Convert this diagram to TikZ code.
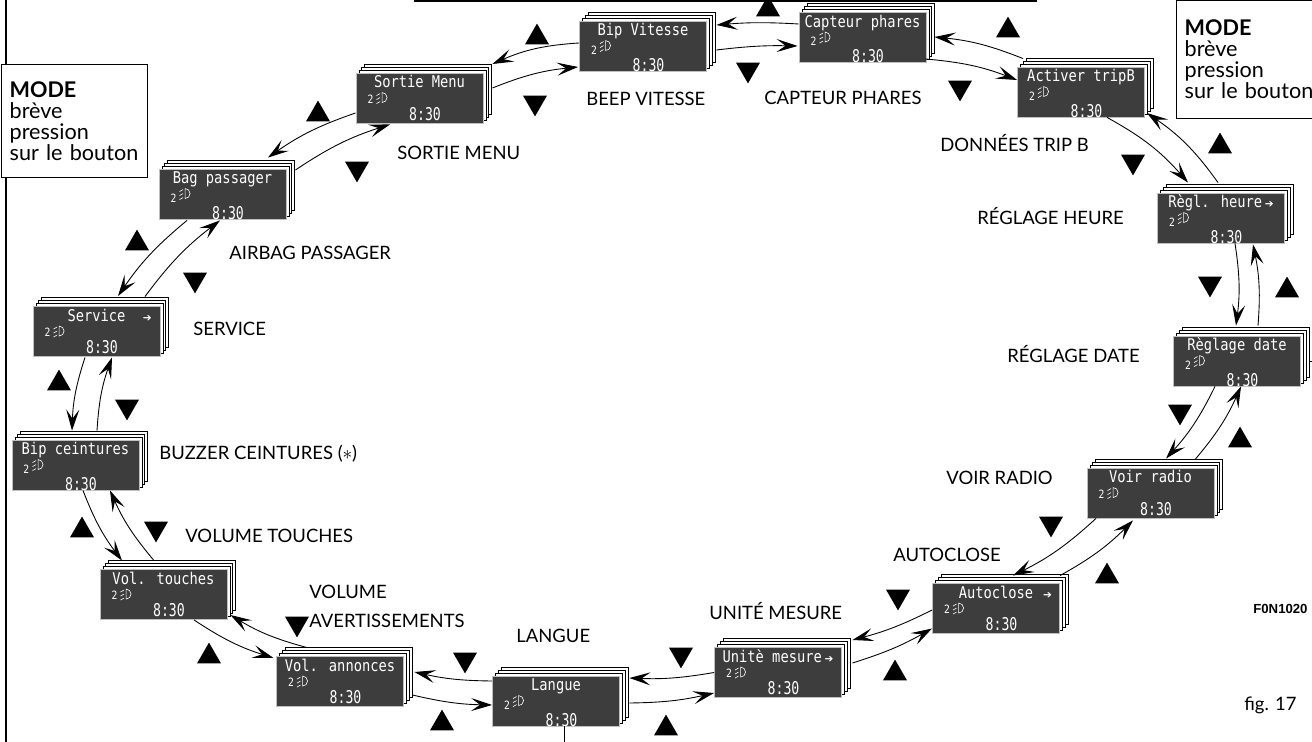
\documentclass[tikz,border=0pt]{standalone}
\usepackage{fontspec}
\setmainfont{Lato}
\newfontfamily\lcdfont[FakeStretch=0.85]{DejaVu Sans Mono}
\newfontfamily\clockfont[FakeStretch=0.75]{DejaVu Sans Mono}
\newfontfamily\symfont{DejaVu Sans}
\newfontfamily\codefont{Liberation Sans}
\usetikzlibrary{shapes.geometric,arrows.meta,shadows}
\definecolor{lcdgray}{HTML}{3D3D3D}
\newcommand{\submenu}[1]{\rlap{\hspace{#1}{\symfont\fontsize{6}{6}\selectfont ➔}}}
\newcommand{\subinline}{\,{\symfont\fontsize{6}{6}\selectfont ➔}}
% display face: title line, "2" + lamp, clock
\newcommand{\lcd}[1]{\vbox to 10mm{\hsize=25.4mm\offinterlineskip
  \hbox to\hsize{\vrule height3mm depth0pt width0pt\hss{\lcdfont\fontsize{9.2}{10}\selectfont #1}\hss}%
  \hbox to\hsize{\vrule height3mm depth0pt width0pt\hspace*{2.3mm}{\lcdfont\fontsize{6.5}{7}\selectfont 2}\hss}%
  \hbox to\hsize{\vrule height3.4mm depth0.6mm width0pt\hss\hspace*{2.2mm}{\clockfont\fontsize{10}{10}\selectfont 8:30}\hss}%
  \vss}}

\begin{document}
\begin{tikzpicture}[x=0.2mm, y=-0.2mm,
  headlamp/.pic={
    \draw[white, line width=0.35pt] (5.3mm,-6mm) arc[start angle=-90, end angle=90, radius=1mm] -- cycle;
    \draw[white, line width=0.35pt] (4.9mm,-4.2mm) -- (4.2mm,-4.6mm) (4.9mm,-5mm) -- (4.2mm,-5.4mm) (4.9mm,-5.8mm) -- (4.2mm,-6.2mm);
  },
  card/.style={rectangle, draw=gray!50, line width=0.5pt, fill=lcdgray, text=white,
    minimum width=25.4mm, minimum height=10mm, inner sep=0pt,
    general shadow={fill=white, draw=black, line width=0.4pt, shadow xshift=1.74mm, shadow yshift=1.74mm},
    general shadow={fill=white, draw=black, line width=0.4pt, shadow xshift=1.16mm, shadow yshift=1.16mm},
    general shadow={fill=white, draw=black, line width=0.4pt, shadow xshift=0.58mm, shadow yshift=0.58mm},
    append after command={(\tikzlastnode.north west) pic {headlamp}}},
  nav/.style={-{Stealth[length=4.2mm, width=2.6mm, inset=1.8mm]}, line width=0.5pt},
  tri/.style={regular polygon, regular polygon sides=3, fill=black, inner sep=0pt, minimum size=5.54mm},
  triup/.style={tri, yshift=-0.69mm},
  tridn/.style={tri, shape border rotate=180, yshift=0.69mm},
  lbl/.style={anchor=base west, inner sep=0pt, font=\fontsize{10.5}{17}\selectfont},
  modebox/.style={draw, fill=white, line width=0.75pt, anchor=north west, align=left,
    inner xsep=1.6mm, inner ysep=3.5mm, text width=26mm, minimum width=29.2mm, font=\fontsize{12.3}{11.8}\selectfont},
  frame/.style={line width=0.85pt},
]
\useasboundingbox (0,0) rectangle (1312,742);

% === Frame lines ===
\draw[frame] (6,-5) -- (6,750);
\draw[frame] (415,-20) rectangle (1036,1);

% === MODE boxes ===
\node[modebox] (modeleft) at (1,64) {\textbf{MODE}\\brève\\pression\\sur le bouton};
\node[modebox, inner ysep=4mm] (moderight) at (1176,-0.5) {\textbf{MODE}\\brève\\pression\\sur le bouton};

% === Displays, clockwise from the top ===
\node[card] (sortie) at (419.5,98) {\lcd{Sortie Menu}};
\node[card] (bipvit) at (643,46) {\lcd{Bip Vitesse}};
\node[card] (capteur) at (862.5,37.5) {\lcd{Capteur phares}};
\node[card] (trip) at (1081,92) {\lcd{Activer tripB}};
\node[card] (heure) at (1221,218) {\lcd{Règl. heure\subinline}};
\node[card] (date) at (1237,361) {\lcd{Règlage date}};
\node[card] (radio) at (1150.5,493) {\lcd{Voir radio}};
\node[card] (autoclose) at (996,608.5) {\lcd{Autoclose\submenu{2mm}}};
\node[card] (unite) at (778,672.5) {\lcd{Unitè mesure\subinline}};
\node[card] (langue) at (556,701) {\lcd{Langue}};
\node[card] (annonces) at (340,681.5) {\lcd{Vol. annonces}};
\node[card] (touches) at (163.5,594.5) {\lcd{Vol. touches}};
\node[card] (ceint) at (75.5,465) {\lcd{Bip ceintures}};
\node[card] (service) at (96.5,331.5) {\lcd{Service\submenu{3.5mm}}};
\node[card] (airbag) at (222.5,194) {\lcd{Bag passager}};

% === Captions ===
\node[lbl] (lblsortie) at (397,160) {SORTIE MENU};
\node[lbl] (lblbip) at (586,106) {BEEP VITESSE};
\node[lbl] (lblcapteur) at (764,105) {CAPTEUR PHARES};
\node[lbl] (lbltrip) at (940,152) {DONNÉES TRIP B};
\node[lbl] (lblheure) at (977,225) {RÉGLAGE HEURE};
\node[lbl] (lbldate) at (1007,363) {RÉGLAGE DATE};
\node[lbl] (lblradio) at (946,485) {VOIR RADIO};
\node[lbl] (lblautoclose) at (893,562) {AUTOCLOSE};
\node[lbl] (lblunite) at (709,620) {UNITÉ MESURE};
\node[lbl] (lbllangue) at (516,643) {LANGUE};
\node[lbl, align=left] (lblannonces) at (309,628) {VOLUME\\AVERTISSEMENTS};
\node[lbl] (lbltouches) at (185,543) {VOLUME TOUCHES};
\node[lbl] (lblceint) at (159,460) {BUZZER CEINTURES (\(\ast\))};
\node[lbl] (lblservice) at (193,336) {SERVICE};
\node[lbl] (lblairbag) at (229,260) {AIRBAG PASSAGER};
\node[lbl] (figno) at (1244,711) {fig. 17};
\node[anchor=base west, inner sep=0pt, font=\codefont\bfseries\fontsize{7.5}{9}\selectfont] (figcode) at (1253,614) {F0N1020};

% === Up / down keys ===
\node[triup] (upsb) at (537,34) {};
\node[triup] (upbc) at (768,6) {};
\node[triup] (upct) at (1008,27) {};
\node[triup] (upth) at (1220,143) {};
\node[triup] (uphd) at (1287,287) {};
\node[triup] (updr) at (1240,437) {};
\node[triup] (upra) at (1107,573) {};
\node[triup] (upau) at (895,670) {};
\node[triup] (upul) at (666,725) {};
\node[triup] (upla) at (442,720) {};
\node[triup] (upat) at (209,653) {};
\node[triup] (uptc) at (82,527) {};
\node[triup] (upcs) at (59,380) {};
\node[triup] (upsa) at (137,240) {};
\node[triup] (upas) at (318,111) {};
\node[tridn] (dnsb) at (535,106) {};
\node[tridn] (dnbc) at (748,73) {};
\node[tridn] (dnct) at (960,91) {};
\node[tridn] (dnth) at (1133,165) {};
\node[tridn] (dnhd) at (1210,287) {};
\node[tridn] (dndr) at (1180,415) {};
\node[tridn] (dnra) at (1051,527) {};
\node[tridn] (dnau) at (898,600) {};
\node[tridn] (dnul) at (681,658) {};
\node[tridn] (dnla) at (465,663) {};
\node[tridn] (dnat) at (297,627) {};
\node[tridn] (dntc) at (156,532) {};
\node[tridn] (dncs) at (127,410) {};
\node[tridn] (dnsa) at (195,283) {};
\node[tridn] (dnas) at (357,172) {};

% === Transitions: outer = up key, inner = down key ===
\draw[nav] ([shift={(0,-3)}]bipvit.west) to[bend right=10] ([shift={(9,-34)}]sortie.east);
\draw[nav] ([shift={(9,-10)}]sortie.east) to[bend left=8] ([shift={(-1,21)}]bipvit.west);
\draw[nav] ([shift={(0,-13.5)}]capteur.west) to[bend right=4] ([shift={(9.5,-21)}]bipvit.east);
\draw[nav] ([shift={(9.5,4)}]bipvit.east) to[bend left=4] ([shift={(-1,8.5)}]capteur.west);
\draw[nav] ([shift={(-58,-8)}]trip.north) to[bend right=8] ([shift={(8,-0.5)}]capteur.east);
\draw[nav] ([shift={(-1,21.5)}]capteur.east) to[bend left=8] ([shift={(0,-12)}]trip.west);
\draw[nav] ([shift={(-3,-10)}]heure.north) to[bend right=10] ([shift={(2,21)}]trip.east);
\draw[nav] ([shift={(26,0)}]trip.south) to[bend left=10] ([shift={(-33,-10)}]heure.north);
\draw[nav] ([shift={(14,0)}]heure.south) to[bend left=8] ([shift={(-1,-10)}]date.north);
\draw[nav] ([shift={(21,-10)}]date.north) to[bend right=8] ([shift={(32,1)}]heure.south);
\draw[nav] ([shift={(-22,0)}]date.south) to[bend left=8] ([shift={(15.5,-9)}]radio.north);
\draw[nav] ([shift={(44.5,-8)}]radio.north) to[bend right=8] ([shift={(4,0)}]date.south);
\draw[nav] ([shift={(-54.5,0)}]radio.south) to[bend left=8] ([shift={(17,-7.5)}]autoclose.north);
\draw[nav] ([shift={(64,-7.5)}]autoclose.north) to[bend right=8] ([shift={(-17.5,2)}]radio.south);
\draw[nav] ([shift={(0,1.5)}]autoclose.west) to[bend left=6] ([shift={(10.5,-32.5)}]unite.east);
\draw[nav] ([shift={(10.5,-9.5)}]unite.east) to[bend right=6] ([shift={(0,20)}]autoclose.west);
\draw[nav] (unite.west) to[bend left=6] ([shift={(9.5,-23)}]langue.east);
\draw[nav] ([shift={(9.5,2)}]langue.east) to[bend right=6] ([shift={(0,20.5)}]unite.west);
\draw[nav] ([shift={(0,-20)}]langue.west) to[bend left=6] ([shift={(10.5,-9.5)}]annonces.east);
\draw[nav] ([shift={(8.5,13.5)}]annonces.east) to[bend right=6] ([shift={(0,4)}]langue.west);
\draw[nav] ([shift={(-33,-8.5)}]annonces.north) to[bend left=8] ([shift={(3,20.5)}]touches.east);
\draw[nav] ([shift={(30.5,0)}]touches.south) to[bend right=8] ([shift={(-2.5,-23.5)}]annonces.west);
\draw[nav] ([shift={(-9.5,-8.5)}]touches.north) to[bend left=8] ([shift={(34.5,0)}]ceint.south);
\draw[nav] ([shift={(7.5,0)}]ceint.south) to[bend right=8] ([shift={(-41.5,-8.5)}]touches.north);
\draw[nav] ([shift={(21.5,-9)}]ceint.north) to[bend left=8] ([shift={(15.5,0.5)}]service.south);
\draw[nav] ([shift={(-11.5,0.5)}]service.south) to[bend right=8] ([shift={(-3.5,-9)}]ceint.north);
\draw[nav] ([shift={(48.5,-9.5)}]service.north) to[bend left=8] ([shift={(-2.5,1)}]airbag.south);
\draw[nav] ([shift={(-35.5,1)}]airbag.south) to[bend right=8] ([shift={(21.5,-10)}]service.north);
\draw[nav] ([shift={(0,15)}]sortie.west) to[bend right=8] ([shift={(45.5,-11)}]airbag.north);
\draw[nav] ([shift={(9,-24)}]airbag.east) to[bend left=8] ([shift={(-29.5,1)}]sortie.south);

% === Leader lines out of the figure ===
\coordinate (langueout) at (564,750);
\coordinate (dateout) at (1325,361);
\draw ([shift={(8,0)}]langue.south) -- (langueout);
\draw ([shift={(9,0)}]date.east) -- (dateout);

\end{tikzpicture}
\end{document}
